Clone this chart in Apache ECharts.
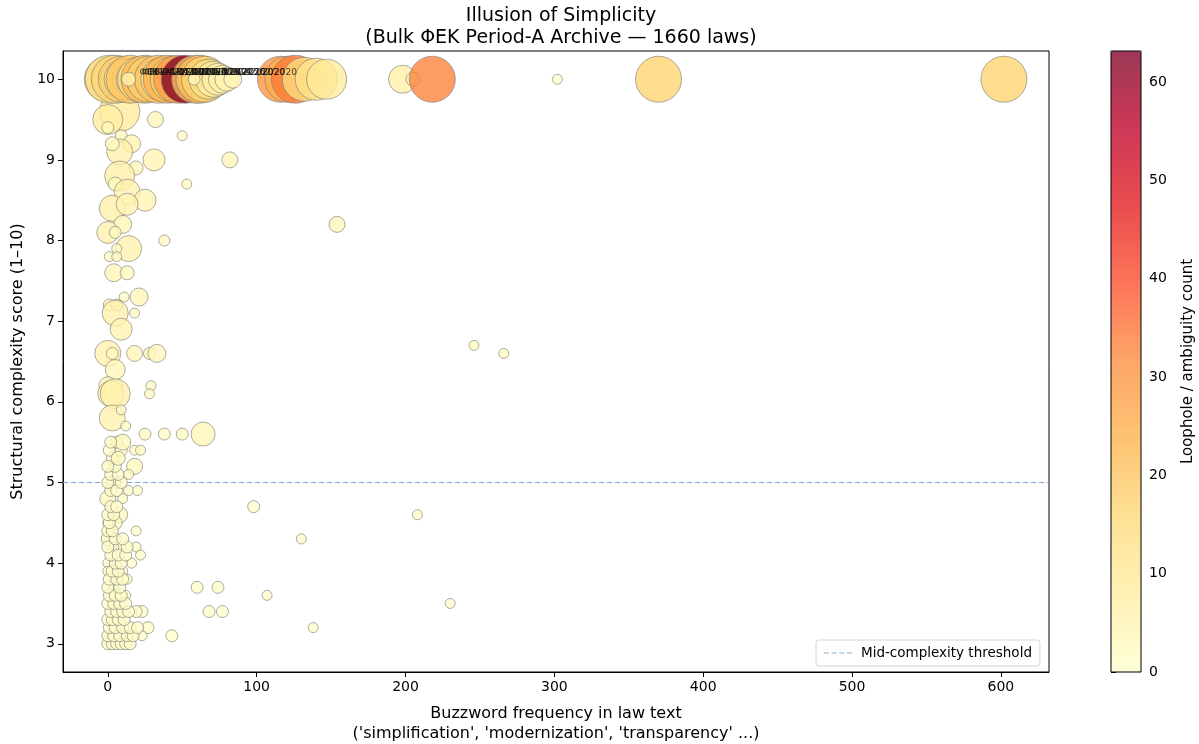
<!DOCTYPE html>
<html>
<head>
<meta charset="utf-8">
<script src="https://cdn.jsdelivr.net/npm/echarts@6/dist/echarts.min.js"></script>
<style>html,body{margin:0;padding:0;background:#fff}#c{width:1199px;height:744px}</style>
</head>
<body>
<div id="c"></div>
<script>
// ---- data ----
const xTicks = [0, 100, 200, 300, 400, 500, 600];
const yTicks = [3, 4, 5, 6, 7, 8, 9, 10];
const cbTicks = [0, 10, 20, 30, 40, 50, 60];
const threshold = 5;
const loopholeMax = 63.15;

// each law: [buzzword frequency, complexity score, loophole count, bubble size]
const topTier = [
  [-1,10,12,44],[1,10,14,48],[3,10,10,40],[5,10,16,48],[7,10,8,36],[9,10,18,46],[11,10,12,40],
  [13,10,6,30],[15,10,20,48],[17,10,9,34],[19,10,5,24],[22,10,16,46],[25,10,22,48],[28,10,18,46],
  [31,10,11,38],[34,10,20,48],[37,10,14,44],[40,10,24,48],[44,10,18,46],[47,10,28,48],[52,10,63,48],
  [56,10,9,30],[59,10,20,48],[62,10,22,48],[65,10,17,46],[68,10,12,40],[71,10,9,36],[74,10,7,32],
  [77,10,6,28],[80,10,5,24],[84,10,4,18],[14,10,5,14],[58,10,4,12],
  [116,10,30,46],[121,10,24,46],[126,10,34,48],[132,10,14,44],[140,10,12,42],[147,10,9,40],
  [198,10,7,28],[205,10,5,14],[218,10,33,46],[302,10,1,10],[370,10,17,46],[602,10,17,46]
];
const upperBand = [
  [8,9.6,9,40],[0,9.5,8,30],[32,9.5,4,16],[0,9.4,3,12],[50,9.3,2,10],[9,9.3,3,12],
  [16,9.2,5,18],[8,9.1,6,26],[3,9.2,3,14],[31,9.0,5,22],[82,9.0,4,16],[19,8.9,4,14],
  [8,8.8,7,30],[5,8.7,3,14],[53,8.7,2,10],[13,8.6,6,26],[25,8.5,5,22],[3,8.4,7,26],
  [13,8.45,5,22],[10,8.2,4,18],[154,8.2,4,16],[0,8.1,6,22],[5,8.1,3,12],[38,8.0,2,11],
  [14,7.9,6,26],[6,7.9,2,10],[1,7.8,2,10],[6,7.8,2,10],[4,7.6,4,18],[13,7.6,3,14],
  [21,7.3,4,18],[11,7.3,2,10],[1,7.2,3,12],[6,7.2,3,12],[5,7.1,6,26],[18,7.1,2,10],
  [9,6.9,5,22],[0,6.6,6,26],[3,6.6,3,12],[18,6.6,4,16],[28,6.6,3,12],[33,6.6,4,18],
  [246,6.7,2,10],[266,6.6,2,10],[5,6.4,4,20],[0,6.2,4,18],[6,6.2,3,12],[29,6.2,2,10],
  [28,6.1,2,10],[2,6.1,6,26],[5,6.1,6,30],[3,5.8,6,26],[9,5.9,2,10],[12,5.7,2,10],
  [25,5.6,2,12],[38,5.6,2,12],[50,5.6,2,12],[64,5.6,4,24],[10,5.5,3,16],[2,5.5,2,12],
  [18,5.4,2,10],[22,5.4,2,10],[7,5.3,3,14],[18,5.2,3,16],[0,5.2,2,12],[14,5.1,2,10]
];
const lowerBand = [
  [4,5.0,2,14],[14,4.9,1,10],[20,4.9,1,10],[0,4.8,3,16],[10,4.8,1,10],[98,4.7,1,12],
  [8,4.6,3,16],[208,4.6,1,10],[5,4.5,3,14],[0,4.5,1,10],[19,4.4,1,10],[1,4.3,3,16],
  [130,4.3,1,10],[9,4.2,1,10],[19,4.2,1,10],[4,4.2,1,10],[22,4.1,1,10],[16,4.0,1,10],
  [0,4.0,1,10],[10,3.9,1,10],[0,3.9,1,10],[13,3.8,1,10],[4,3.7,1,10],[60,3.7,1,12],
  [74,3.7,1,12],[12,3.6,1,10],[107,3.6,1,10],[230,3.5,1,10],[68,3.4,1,12],[77,3.4,1,12],
  [23,3.4,1,12],[19,3.4,1,12],[27,3.2,1,12],[138,3.2,1,10],[43,3.1,1,12],[23,3.1,1,10],
  [0,3.0,1,12],[3,3.0,1,12],[6,3.0,1,12],[9,3.0,1,12],[12,3.0,1,12],[15,3.0,1,12],
  [0,3.1,1,12],[4,3.1,1,12],[8,3.1,1,12],[13,3.1,1,12],[17,3.1,1,12],
  [1,3.2,1,12],[5,3.2,1,12],[10,3.2,1,12],[15,3.2,1,12],[20,3.2,1,12],
  [0,3.3,1,12],[3,3.3,1,12],[7,3.3,1,12],[11,3.3,1,12],[2,3.4,1,12],[6,3.4,1,12],[10,3.4,1,12],[14,3.4,1,12],
  [0,3.5,1,12],[4,3.5,1,12],[8,3.5,1,12],[12,3.5,1,12],[1,3.6,1,12],[5,3.6,1,12],[9,3.6,1,12],
  [0,3.7,1,12],[8,3.7,1,12],[1,3.8,1,12],[6,3.8,1,12],[10,3.8,1,12],[3,3.9,1,12],[7,3.9,1,12],
  [5,4.0,1,12],[9,4.0,1,12],[2,4.1,1,12],[7,4.1,1,12],[12,4.1,1,12],[0,4.2,1,12],[13,4.2,1,12],
  [5,4.3,1,12],[10,4.3,1,12],[0,4.4,1,12],[3,4.4,1,12],[1,4.5,1,12],[0,4.6,1,12],[4,4.6,1,12],
  [2,4.7,1,12],[6,4.7,1,12],[2,4.9,1,12],[6,4.9,1,12],[0,5.0,1,12],[9,5.0,1,12],[2,5.1,1,12],
  [7,5.1,1,12],[5,5.2,1,12],[3,5.3,1,12],[1,5.4,1,12],[9,5.4,1,12],[6,5.5,1,12]
];
const labelledLaws = [
  ['ΦΕΚ-Α 18/2020', 20, 10], ['ΦΕΚ-Α 21/2020', 22, 10], ['ΦΕΚ-Α 45/2020', 25, 10],
  ['ΦΕΚ-Α 118/2020', 29, 10], ['ΦΕΚ-Α 120/2020', 40, 10], ['ΦΕΚ-Α 186/2020', 46, 10],
  ['ΦΕΚ-Α 228/2020', 55, 10], ['ΦΕΚ-Α 247/2020', 60, 10], ['ΦΕΚ-Α 225/2020', 68, 10],
  ['ΦΕΚ-Α 262/2020', 76, 10]
];

// ---- chart ----
const FONT = 'DejaVu Sans';
const xMin = -30.1, xMax = 632.3, yMin = 2.65, yMax = 10.35;
const ylOrRd = ['#ffffcc','#ffeda0','#fed976','#feb24c','#fd8d3c','#fc4e2a','#e31a1c','#bd0026','#800026'];
// same ramp seen through 78% opacity on white (for the colour bar)
const ylOrRdBar = ['#ffffd7','#fff1b5','#fee194','#fec373','#fda667','#fd7559','#e94c4e','#cc3856','#9c3856'];

const scatterBase = {
  type: 'scatter',
  symbolSize: v => v[3],
  itemStyle: { borderColor: '#7a7a7a', borderWidth: 0.8 },
  emphasis: { disabled: true },
  z: 3
};

const chart = echarts.init(document.getElementById('c'), null, { renderer: 'canvas' });
chart.setOption({
  animation: false,
  backgroundColor: '#fff',
  title: {
    text: 'Illusion of Simplicity\n(Bulk ΦΕΚ Period-A Archive — 1660 laws)',
    left: 556, top: 0, textAlign: 'center',
    textStyle: { fontFamily: FONT, fontSize: 19, fontWeight: 'normal', color: '#000', lineHeight: 22 }
  },
  grid: [
    { left: 63, right: 150, top: 51, bottom: 72, show: true, borderColor: '#000', borderWidth: 1,
      containLabel: false, outerBoundsMode: 'none' },
    { left: 1111, top: 51, width: 30, height: 621, show: false, outerBoundsMode: 'none' }
  ],
  xAxis: [
    {
      type: 'value', min: xMin, max: xMax, gridIndex: 0,
      splitLine: { show: false },
      axisLine: { show: true, onZero: false, lineStyle: { color: '#000' } },
      axisTick: { show: true, customValues: xTicks, length: 5, lineStyle: { color: '#000' } },
      axisLabel: { customValues: xTicks, fontFamily: FONT, fontSize: 14, color: '#000', margin: 8 },
      name: "Buzzword frequency in law text\n('simplification', 'modernization', 'transparency' ...)",
      nameLocation: 'middle', nameGap: 32,
      nameTextStyle: { fontFamily: FONT, fontSize: 16, color: '#000', lineHeight: 20 }
    },
    { type: 'value', gridIndex: 1, min: 0, max: 1, show: false }
  ],
  yAxis: [
    {
      type: 'value', min: yMin, max: yMax, gridIndex: 0,
      splitLine: { show: false },
      axisLine: { show: true, onZero: false, lineStyle: { color: '#000' } },
      axisTick: { show: true, customValues: yTicks, length: 5, lineStyle: { color: '#000' } },
      axisLabel: { customValues: yTicks, fontFamily: FONT, fontSize: 14, color: '#000', margin: 8 },
      name: 'Structural complexity score (1–10)',
      nameLocation: 'middle', nameGap: 36, nameRotate: 90,
      nameTextStyle: { fontFamily: FONT, fontSize: 16, color: '#000' }
    },
    {
      type: 'value', gridIndex: 1, min: 0, max: loopholeMax, position: 'right',
      splitLine: { show: false },
      axisLine: { show: false },
      axisTick: { show: true, customValues: cbTicks, length: 5, lineStyle: { color: '#000' } },
      axisLabel: { customValues: cbTicks, fontFamily: FONT, fontSize: 14, color: '#000', margin: 8 },
      name: 'Loophole / ambiguity count',
      nameLocation: 'middle', nameGap: 40, nameRotate: 90,
      nameTextStyle: { fontFamily: FONT, fontSize: 15, color: '#000' }
    }
  ],
  visualMap: [
    {
      type: 'continuous', show: false, min: 0, max: loopholeMax, dimension: 2,
      seriesIndex: [0, 1, 2],
      inRange: { color: ylOrRd, opacity: 0.78 }
    },
    {
      type: 'continuous', min: 0, max: loopholeMax, dimension: 0,
      seriesIndex: [5],
      calculable: false, text: null, showLabel: false,
      left: 1111, top: 51, itemWidth: 30, itemHeight: 621, padding: 0,
      inRange: { color: ylOrRdBar }
    }
  ],
  graphic: [
    {
      type: 'rect', z: 100, silent: true,
      shape: { x: 1111, y: 51, width: 30, height: 621 },
      style: { fill: 'none', stroke: '#000', lineWidth: 1 }
    }
  ],
  legend: {
    data: [{ name: 'Mid-complexity threshold', icon: 'path://M0,0H5V1H0Z M7.5,0H12.5V1H7.5Z M15,0H20V1H15Z M22.5,0H27.5V1H22.5Z' }],
    left: 816, top: 640,
    backgroundColor: '#fff', borderColor: '#d6d6d6', borderWidth: 1, borderRadius: 3,
    padding: [6, 8, 6, 8], itemWidth: 28, itemHeight: 1.2, itemGap: 8,
    itemStyle: { color: '#8aaed4' },
    textStyle: { fontFamily: FONT, fontSize: 13.5, color: '#000', padding: [0, 0, 0, 4] }
  },
  series: [
    Object.assign({}, scatterBase, { name: 'lower', data: lowerBand }),
    Object.assign({}, scatterBase, { name: 'upper', data: upperBand }),
    Object.assign({}, scatterBase, { name: 'top', data: topTier }),
    {
      type: 'line', name: 'Mid-complexity threshold',
      data: [[xMin, threshold], [xMax, threshold]],
      symbol: 'none', silent: true, z: 2,
      lineStyle: { type: [5, 3], width: 1.1, color: '#7ea7d6' },
      itemStyle: { color: '#7ea7d6' }
    },
    {
      type: 'scatter', name: 'labels', silent: true, symbolSize: 0, z: 5,
      data: labelledLaws.map(d => ({ name: d[0], value: [d[1], d[2]] })),
      label: {
        show: true, position: 'right', distance: 0, offset: [2, -7],
        formatter: p => p.name, fontFamily: FONT, fontSize: 9, color: '#111'
      }
    },
    { type: 'scatter', name: 'colourbar', xAxisIndex: 1, yAxisIndex: 1, data: [], silent: true }
  ]
});
</script>
</body>
</html>
